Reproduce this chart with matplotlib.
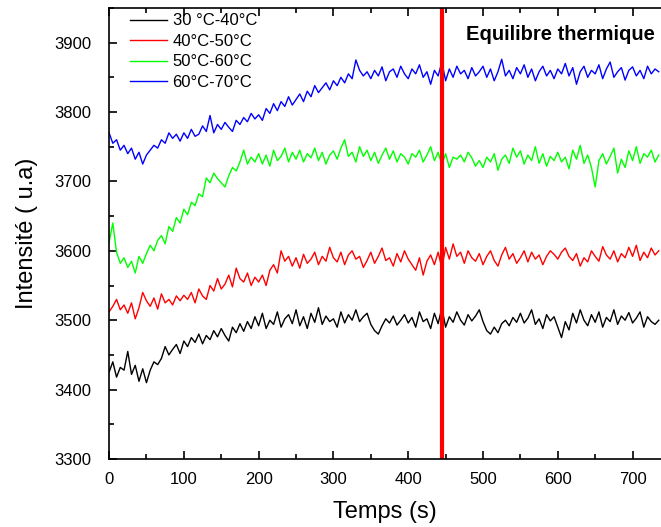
import numpy as np
import matplotlib
matplotlib.use('agg')
import matplotlib.pyplot as plt
from matplotlib.ticker import MultipleLocator

plt.rcParams['font.family'] = ['Liberation Sans', 'DejaVu Sans']

# time axis (s), one reading every 5 s
temps = np.arange(0, 740, 5)

noir_30_40 = [
    3425, 3440, 3418, 3432, 3428, 3455, 3422, 3435, 3412, 3430,
    3410, 3428, 3440, 3436, 3445, 3462, 3450, 3458, 3465, 3452,
    3470, 3462, 3475, 3468, 3480, 3466, 3478, 3472, 3485, 3476,
    3488, 3478, 3470, 3490, 3482, 3495, 3484, 3498, 3488, 3505,
    3492, 3510, 3488, 3500, 3494, 3512, 3490, 3502, 3508, 3495,
    3515, 3492, 3505, 3488, 3510, 3497, 3518, 3494, 3506, 3498,
    3502, 3490, 3512, 3496, 3508, 3500, 3515, 3498, 3505, 3510,
    3494, 3485, 3480, 3492, 3502, 3496, 3506, 3493, 3500, 3508,
    3496, 3504, 3490, 3512, 3498, 3502, 3488, 3510, 3495, 3518,
    3490, 3505, 3497, 3512, 3500, 3493, 3508, 3499, 3506, 3515,
    3498, 3485, 3480, 3490, 3482, 3495, 3500, 3492, 3504, 3497,
    3510, 3496, 3503, 3515, 3494, 3502, 3488, 3508, 3499, 3505,
    3490, 3475, 3498, 3486, 3510, 3496, 3515, 3500, 3492, 3508,
    3497, 3512, 3490, 3504, 3498, 3515, 3494, 3506, 3500, 3511,
    3496, 3503, 3512, 3490, 3505, 3498, 3494, 3500]

rouge_40_50 = [
    3512, 3520, 3530, 3515, 3522, 3510, 3525, 3502, 3518, 3540,
    3528, 3520, 3532, 3516, 3538, 3525, 3530, 3522, 3535, 3528,
    3536, 3530, 3540, 3525, 3545, 3535, 3530, 3550, 3542, 3560,
    3545, 3552, 3565, 3548, 3575, 3560, 3555, 3568, 3550, 3562,
    3555, 3565, 3550, 3572, 3580, 3568, 3600, 3585, 3592, 3578,
    3590, 3575, 3595, 3582, 3588, 3598, 3580, 3592, 3585, 3605,
    3590, 3584, 3598, 3580, 3594, 3600, 3588, 3592, 3576, 3586,
    3598, 3582, 3592, 3604, 3586, 3590, 3578, 3596, 3584, 3600,
    3588, 3580, 3572, 3590, 3565, 3585, 3594, 3580, 3598, 3575,
    3605, 3588, 3610, 3592, 3598, 3582, 3600, 3590, 3585, 3596,
    3580, 3592, 3600, 3586, 3578, 3594, 3605, 3588, 3596, 3582,
    3590, 3600, 3584, 3598, 3588, 3594, 3580, 3592, 3600, 3595,
    3588, 3598, 3604, 3592, 3586, 3596, 3578, 3590, 3584, 3600,
    3592, 3585, 3606, 3594, 3588, 3600, 3584, 3596, 3590, 3605,
    3592, 3608, 3586, 3598, 3590, 3604, 3594, 3600]

vert_50_60 = [
    3612, 3640, 3598, 3582, 3590, 3576, 3585, 3568, 3592, 3582,
    3596, 3608, 3600, 3615, 3622, 3610, 3635, 3628, 3648, 3640,
    3660, 3652, 3670, 3665, 3682, 3678, 3705, 3698, 3712, 3704,
    3698, 3692, 3708, 3720, 3715, 3728, 3745, 3725, 3735, 3728,
    3740, 3725, 3738, 3722, 3745, 3730, 3736, 3748, 3728, 3742,
    3732, 3745, 3728, 3740, 3734, 3748, 3730, 3742, 3725, 3738,
    3744, 3732, 3748, 3760, 3736, 3742, 3728, 3750, 3736, 3745,
    3730, 3742, 3726, 3738, 3748, 3732, 3744, 3728, 3740, 3735,
    3725, 3740, 3735, 3745, 3728, 3738, 3750, 3730, 3742, 3724,
    3740, 3720, 3735, 3732, 3738, 3728, 3742, 3734, 3722, 3730,
    3720, 3735, 3728, 3740, 3716, 3732, 3738, 3726, 3748, 3735,
    3744, 3725, 3738, 3730, 3750, 3726, 3740, 3722, 3736, 3730,
    3742, 3728, 3735, 3718, 3745, 3732, 3752, 3726, 3738, 3720,
    3692, 3730, 3740, 3725, 3736, 3748, 3712, 3732, 3720, 3744,
    3730, 3750, 3726, 3740, 3735, 3745, 3728, 3738]

bleu_60_70 = [
    3770, 3755, 3760, 3745, 3752, 3740, 3748, 3732, 3742, 3725,
    3738, 3745, 3752, 3748, 3760, 3755, 3770, 3762, 3768, 3758,
    3770, 3762, 3775, 3765, 3768, 3780, 3772, 3795, 3770, 3782,
    3775, 3785, 3778, 3772, 3788, 3782, 3792, 3786, 3798, 3790,
    3796, 3788, 3805, 3798, 3812, 3802, 3815, 3808, 3822, 3810,
    3818, 3826, 3815, 3830, 3822, 3838, 3828, 3835, 3842, 3832,
    3845, 3838, 3850, 3842, 3855, 3848, 3875, 3860, 3852, 3858,
    3848, 3860, 3852, 3865, 3845, 3858, 3862, 3850, 3866, 3855,
    3848, 3862, 3855, 3868, 3850, 3858, 3840, 3860, 3852, 3872,
    3845, 3862, 3850, 3866, 3855, 3860, 3848, 3864, 3852, 3858,
    3866, 3850, 3862, 3845, 3858, 3876, 3852, 3860, 3848, 3864,
    3855, 3868, 3850, 3862, 3845, 3858, 3866, 3852, 3860, 3848,
    3862, 3855, 3870, 3852, 3864, 3840, 3858, 3866, 3850, 3860,
    3855, 3868, 3848, 3862, 3872, 3850, 3858, 3864, 3846, 3860,
    3865, 3852, 3860, 3848, 3866, 3855, 3862, 3858]

t_equilibre = 445

fig = plt.figure(figsize=(6.61, 5.27), dpi=100)
ax = fig.add_axes([0.165, 0.129, 0.835, 0.856])

ax.plot(temps, noir_30_40, color='black', lw=1.0, label='30 °C-40°C')
ax.plot(temps, rouge_40_50, color='#ff0000', lw=1.0, label='40°C-50°C')
ax.plot(temps, vert_50_60, color='#00ff00', lw=1.0, label='50°C-60°C')
ax.plot(temps, bleu_60_70, color='#0000ff', lw=1.0, label='60°C-70°C')
ax.axvline(t_equilibre, color='#ff0000', lw=3)

ax.set_xlim(0, 738)
ax.set_ylim(3300, 3950)
ax.xaxis.set_major_locator(MultipleLocator(100))
ax.xaxis.set_minor_locator(MultipleLocator(50))
ax.yaxis.set_major_locator(MultipleLocator(100))
ax.yaxis.set_minor_locator(MultipleLocator(50))
ax.tick_params(which='both', direction='in', top=True, right=False,
               labelsize=12, width=1.2)
ax.tick_params(which='major', length=6)
ax.tick_params(which='minor', length=3.5)
ax.tick_params(axis='x', which='major', pad=9)
ax.tick_params(axis='y', which='major', pad=13)
ax.spines['right'].set_visible(False)
for s in ['left', 'bottom', 'top']:
    ax.spines[s].set_linewidth(1.2)

ax.set_xlabel('Temps (s)', fontsize=17)
ax.set_ylabel('Intensité ( u.a)', fontsize=17)
ax.xaxis.set_label_coords(0.5, -0.093)
ax.yaxis.set_label_coords(-0.128, 0.5)

ax.text(0.989, 0.94, 'Equilibre thermique', transform=ax.transAxes,
        fontsize=14.5, fontweight='bold', ha='right', va='center')

ax.legend(loc='upper left', frameon=False, fontsize=12, handlelength=2.2,
          handletextpad=0.35, labelspacing=0.33, borderaxespad=0.2,
          bbox_to_anchor=(0.02, 1.01))

fig.savefig('out.png', dpi=100)
